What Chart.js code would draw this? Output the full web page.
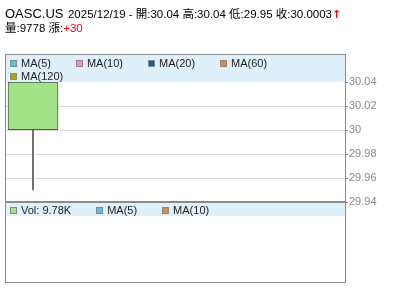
<!DOCTYPE html>
<html><head><meta charset="utf-8">
<script src="https://cdn.jsdelivr.net/npm/chart.js@4/dist/chart.umd.min.js"></script>
<style>
html,body{margin:0;padding:0;background:#fff;}
#wrap{position:relative;width:400px;height:301px;overflow:hidden;font-family:"Liberation Sans",Arial,"Noto Sans CJK TC",sans-serif;}
#c{position:absolute;left:0;top:0;z-index:2;}
.band{position:absolute;background:#DFF0FA;z-index:1;}
.box{position:absolute;box-sizing:border-box;border:1px solid #8a8a8a;z-index:3;}
.hdr{position:absolute;left:5px;white-space:nowrap;color:#000;z-index:4;line-height:1;}
.legend{position:absolute;z-index:4;font-size:11px;color:#222;line-height:13px;white-space:normal;}
.item{display:inline-block;white-space:nowrap;margin-right:25px;}
.sq{display:inline-block;box-sizing:border-box;width:7px;height:7px;border:1px solid #888;margin-right:4px;vertical-align:0px;}
.red{color:#f00;}
</style></head>
<body>
<div id="wrap">
  <div class="band" style="left:6px;top:55px;width:339px;height:27px;"></div>
  <div class="band" style="left:6px;top:203px;width:339px;height:13px;"></div>
  <canvas id="c" width="400" height="301"></canvas>
  <div class="box" style="left:5px;top:54px;width:341px;height:148px;"></div>
  <div class="box" style="left:5px;top:201px;width:341px;height:82px;border-top-width:2px;"></div>
  <div class="hdr" id="h1" style="top:5px;"></div>
  <div class="hdr" id="h2" style="top:19px;"></div>
  <div class="legend" id="lg1" style="left:10px;top:57px;width:336px;"></div>
  <div class="legend" id="lg2" style="left:10px;top:204px;width:336px;"></div>
</div>
<script>
// ---- data ----
const symbol = 'OASC.US';
const categories = ['2025/12/19'];
const openVals = [30.04];
const highVals = [30.04];
const lowVals = [29.95];
const closeVals = [30.0003];
const volumeVals = [9778];
const changeLabels = ['+30'];
const tickValues = [29.94, 29.96, 29.98, 30, 30.02, 30.04];
const tickLabels = ['29.94', '29.96', '29.98', '30', '30.02', '30.04'];
const maLabels = ['MA(5)', 'MA(10)', 'MA(20)', 'MA(60)', 'MA(120)'];
const maColors = ['#44CFCF', '#FF88B4', '#0066B3', '#F5821F', '#B8A200'];
const volLegendLabels = ['Vol: 9.78K', 'MA(5)', 'MA(10)'];
const volLegendColors = ['#A3E388', '#55C0EE', '#C9944E'];

// ---- header ----
const i = 0;
document.getElementById('h1').innerHTML =
  '<span style="font-size:13px;">' + symbol + '</span> <span style="font-size:11.5px;">' +
  categories[i] + ' - 開:' + openVals[i] + ' 高:' + highVals[i] + ' 低:' + lowVals[i] +
  ' 收:' + closeVals[i] + '</span><span class="red" style="font-size:11px;font-weight:bold;font-family:\'DejaVu Sans\';">↑</span>';
document.getElementById('h2').innerHTML =
  '<span style="font-size:11.5px;">量:' + volumeVals[i] + ' 漲:<span class="red">' + changeLabels[i] + '</span></span>';

function fillLegend(id, labels, colors) {
  const el = document.getElementById(id);
  el.innerHTML = labels.map((l, k) =>
    '<span class="item"><span class="sq" style="background:' + colors[k] + '"></span>' + l + '</span>').join('');
}
fillLegend('lg1', maLabels, maColors);
fillLegend('lg2', volLegendLabels, volLegendColors);

// ---- chart ----
const ctx = document.getElementById('c');
new Chart(ctx, {
  type: 'bar',
  data: {
    labels: categories,
    datasets: [
      {
        label: 'body',
        data: categories.map((c, k) => ({ x: k, y: [closeVals[k], openVals[k]] })),
        backgroundColor: '#A3E388',
        borderColor: '#555',
        borderWidth: 1,
        borderSkipped: false,
        barThickness: 50,
        grouped: false
      },
      {
        label: 'wick',
        data: categories.map((c, k) => ({ x: k, y: [lowVals[k], highVals[k]] })),
        backgroundColor: '#555',
        borderWidth: 0,
        barThickness: 1,
        grouped: false
      }
    ]
  },
  options: {
    responsive: false,
    animation: false,
    events: [],
    layout: { padding: { left: 6, right: 0, top: 82, bottom: 99 } },
    plugins: { legend: { display: false }, tooltip: { enabled: false } },
    scales: {
      x: { type: 'linear', display: false, offset: false, bounds: 'data', min: -0.5, max: 5.78 },
      y: {
        position: 'right',
        min: 29.94,
        max: 30.04,
        afterBuildTicks: s => { s.ticks = tickValues.map(v => ({ value: v })); },
        afterFit: s => { s.width = 55; },
        ticks: {
          callback: (v, k) => tickLabels[k],
          color: '#888',
          font: { family: 'Liberation Sans', size: 11 },
          padding: 1
        },
        grid: {
          color: c => (c.tick && c.tick.value >= 30.04 - 1e-9) ? 'rgba(0,0,0,0)' : '#dcdcdc',
          tickColor: '#888',
          tickLength: 3
        },
        border: { display: true, color: '#888' }
      }
    }
  }
});
</script>
</body></html>
